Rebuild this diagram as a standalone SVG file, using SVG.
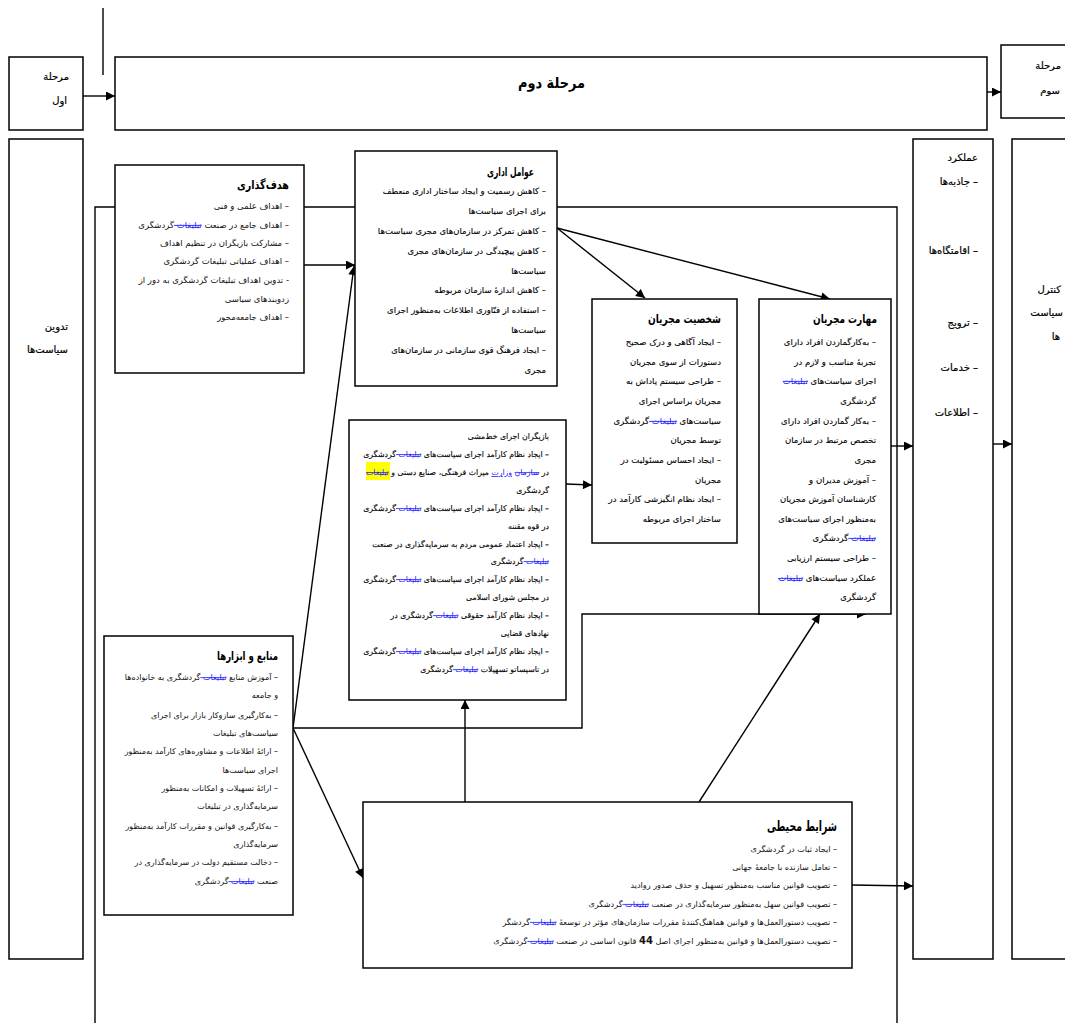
<svg xmlns="http://www.w3.org/2000/svg" width="1065" height="1023" viewBox="0 0 1065 1023">
<style>
.bx{fill:#fff;stroke:#000;stroke-width:1.5}
.ln{fill:none;stroke:#000;stroke-width:1.4}
text{font-family:"DejaVu Sans",sans-serif;direction:rtl;text-anchor:start;fill:#111}
.s{font-size:8.5px}
.k{fill:#000;stroke:#000;stroke-width:0.12}
.h{font-size:12px;font-weight:bold;fill:#000}
.m{font-size:10px;fill:#000;stroke:#000;stroke-width:0.2}
.tr{fill:#1a1aff;stroke:none;text-decoration:line-through}
.u{fill:#1a1aff;stroke:none;text-decoration:underline}
</style>
<defs>
<marker id="ah" viewBox="0 0 10 10" refX="10" refY="5" markerWidth="10" markerHeight="9" markerUnits="userSpaceOnUse" orient="auto"><path d="M0,0 L10,5 L0,10 z" fill="#000"/></marker>
</defs>

<g id="connectors">
<path class="ln" d="M103,8 L103,75"/>
<path class="ln" d="M95,1023 L95,207 L897,207 L897,1023"/>
<path class="ln" d="M83,96 L115,96" marker-end="url(#ah)"/>
<path class="ln" d="M987,92 L1001,92" marker-end="url(#ah)"/>
<path class="ln" d="M304,265 L355,265" marker-end="url(#ah)"/>
<path class="ln" d="M293,728 L354,266" marker-end="url(#ah)"/>
<path class="ln" d="M293,728 L582,728 L582,614 L866,614" marker-end="url(#ah)"/>
<path class="ln" d="M293,728 L363,878" marker-end="url(#ah)"/>
<path class="ln" d="M465,802 L465,700" marker-end="url(#ah)"/>
<path class="ln" d="M699,802 L820,614" marker-end="url(#ah)"/>
<path class="ln" d="M852,885 L913,886" marker-end="url(#ah)"/>
<path class="ln" d="M557,228 L645,298" marker-end="url(#ah)"/>
<path class="ln" d="M557,228 L830,299" marker-end="url(#ah)"/>
<path class="ln" d="M566,484 L592,485" marker-end="url(#ah)"/>
<path class="ln" d="M891,446 L913,446" marker-end="url(#ah)"/>
<path class="ln" d="M993,444 L1012,444" marker-end="url(#ah)"/>
</g>

<g id="phase1">
<rect class="bx" x="9" y="57" width="74" height="73"/>
<text class="m" x="69" y="80">مرحلة</text>
<text class="m" x="67" y="104">اول</text>
</g>
<g id="phase2">
<rect class="bx" x="115" y="57" width="872" height="73"/>
<text x="585" y="88" textLength="67" lengthAdjust="spacingAndGlyphs" style="font-size:15px;font-weight:bold;fill:#000">مرحلة دوم</text>
</g>
<g id="phase3">
<rect class="bx" x="1001" y="45" width="70" height="73"/>
<text class="m" x="1061" y="69">مرحلة</text>
<text class="m" x="1060" y="94">سوم</text>
</g>
<g id="policy">
<rect class="bx" x="9" y="139" width="74" height="820"/>
<text class="m" x="68" y="330">تدوین</text>
<text class="m" x="68" y="353">سیاست‌ها</text>
</g>
<g id="performance">
<rect class="bx" x="913" y="139" width="80" height="820"/>
<text class="m" x="978" y="161">عملکرد</text>
<text class="m" x="978" y="185">– جاذبه‌ها</text>
<text class="m" x="978" y="254">– اقامتگاه‌ها</text>
<text class="m" x="978" y="326">– ترویج</text>
<text class="m" x="978" y="371">– خدمات</text>
<text class="m" x="978" y="416">– اطلاعات</text>
</g>
<g id="control">
<rect class="bx" x="1012" y="139" width="60" height="820"/>
<text class="m" x="1061" y="293">کنترل</text>
<text class="m" x="1063" y="316">سیاست</text>
<text class="m" x="1060" y="340">ها</text>
</g>

<g id="goal">
<rect class="bx" x="115" y="165" width="189" height="208"/>
<text class="h" x="289" y="189" textLength="52" lengthAdjust="spacingAndGlyphs">هدف‌گذاری</text>
<text class="s" x="289" y="209">– اهداف علمی و فنی</text>
<text class="s" x="289" y="228">– اهداف جامع در صنعت <tspan class="tr">تبلیغات </tspan>گردشگری</text>
<text class="s" x="289" y="246">– مشارکت بازیگران در تنظیم اهداف</text>
<text class="s" x="289" y="264">– اهداف عملیاتی تبلیغات گردشگری</text>
<text class="s" x="289" y="283">- تدوین اهداف تبلیغات گردشگری به دور از</text>
<text class="s" x="289" y="302">زدوبندهای سیاسی</text>
<text class="s" x="289" y="320">– اهداف جامعه‌محور</text>
</g>

<g id="admin">
<rect class="bx" x="355" y="151" width="202" height="235"/>
<text class="h" x="534" y="176" textLength="47" lengthAdjust="spacingAndGlyphs">عوامل اداری</text>
<text class="s k" x="546" y="194">– کاهش رسمیت و ایجاد ساختار اداری منعطف</text>
<text class="s k" x="546" y="214">برای اجرای سیاست‌ها</text>
<text class="s k" x="546" y="234">– کاهش تمرکز در سازمان‌های مجری سیاست‌ها</text>
<text class="s k" x="546" y="254">– کاهش پیچیدگی در سازمان‌های مجری</text>
<text class="s k" x="546" y="274">سیاست‌ها</text>
<text class="s k" x="546" y="293">– کاهش اندازهٔ سازمان مربوطه</text>
<text class="s k" x="546" y="313">– استفاده از فنّاوری اطلاعات به‌منظور اجرای</text>
<text class="s k" x="546" y="333">سیاست‌ها</text>
<text class="s k" x="546" y="353">– ایجاد فرهنگ قوی سازمانی در سازمان‌های</text>
<text class="s k" x="546" y="373">مجری</text>
</g>

<g id="personality">
<rect class="bx" x="592" y="299" width="145" height="244"/>
<text class="h" x="721" y="323" textLength="73" lengthAdjust="spacingAndGlyphs">شخصیت مجریان</text>
<text class="s k" x="721" y="345">– ایجاد آگاهی و درک صحیح</text>
<text class="s k" x="721" y="365">دستورات از سوی مجریان</text>
<text class="s k" x="721" y="384">– طراحی سیستم پاداش به</text>
<text class="s k" x="721" y="404">مجریان براساس اجرای</text>
<text class="s k" x="721" y="424">سیاست‌های <tspan class="tr">تبلیغات </tspan>گردشگری</text>
<text class="s k" x="721" y="443">توسط مجریان</text>
<text class="s k" x="721" y="463">– ایجاد احساس مسئولیت در</text>
<text class="s k" x="721" y="483">مجریان</text>
<text class="s k" x="721" y="502">– ایجاد نظام انگیزشی کارآمد در</text>
<text class="s k" x="721" y="522">ساختار اجرای مربوطه</text>
</g>

<g id="skill">
<rect class="bx" x="759" y="299" width="132" height="315"/>
<text class="h" x="877" y="323" textLength="64" lengthAdjust="spacingAndGlyphs">مهارت مجریان</text>
<text class="s k" x="876" y="345">– به‌کارگماردن افراد دارای</text>
<text class="s k" x="876" y="365">تجربهٔ مناسب و لازم در</text>
<text class="s k" x="876" y="384">اجرای سیاست‌های <tspan class="tr">تبلیغات</tspan></text>
<text class="s k" x="876" y="404">گردشگری</text>
<text class="s k" x="876" y="424">– به‌کار گماردن افراد دارای</text>
<text class="s k" x="876" y="443">تخصص مرتبط در سازمان</text>
<text class="s k" x="876" y="463">مجری</text>
<text class="s k" x="876" y="483">– آموزش مدیران و</text>
<text class="s k" x="876" y="502">کارشناسان آموزش مجریان</text>
<text class="s k" x="876" y="522">به‌منظور اجرای سیاست‌های</text>
<text class="s k" x="876" y="541"><tspan class="tr">تبلیغات </tspan>گردشگری</text>
<text class="s k" x="876" y="561">– طراحی سیستم ارزیابی</text>
<text class="s k" x="876" y="581">عملکرد سیاست‌های <tspan class="tr">تبلیغات</tspan></text>
<text class="s k" x="876" y="600">گردشگری</text>
</g>

<g id="actors" style="font-size:7.8px">
<rect class="bx" x="349" y="420" width="217" height="280"/>
<rect x="366" y="462" width="24" height="18" fill="#ffff00"/>
<text class="k" x="549" y="439">بازیگران اجرای خط‌مشی</text>
<text class="k" x="549" y="457">– ایجاد نظام کارآمد اجرای سیاست‌های <tspan class="tr">تبلیغات </tspan>گردشگری</text>
<text class="k" x="549" y="475" textLength="183" lengthAdjust="spacingAndGlyphs">در <tspan class="tr">سازمان</tspan> <tspan class="u">وزارت</tspan> میراث فرهنگی، صنایع دستی و <tspan class="tr">تبلیغات</tspan></text>
<text class="k" x="549" y="493">گردشگری</text>
<text class="k" x="549" y="511">– ایجاد نظام کارآمد اجرای سیاست‌های <tspan class="tr">تبلیغات </tspan>گردشگری</text>
<text class="k" x="549" y="529">در قوه مقننه</text>
<text class="k" x="549" y="547">– ایجاد اعتماد عمومی مردم به سرمایه‌گذاری در صنعت</text>
<text class="k" x="549" y="564"><tspan class="tr">تبلیغات </tspan>گردشگری</text>
<text class="k" x="549" y="582">– ایجاد نظام کارآمد اجرای سیاست‌های <tspan class="tr">تبلیغات </tspan>گردشگری</text>
<text class="k" x="549" y="600">در مجلس شورای اسلامی</text>
<text class="k" x="549" y="618">– ایجاد نظام کارآمد حقوقی <tspan class="tr">تبلیغات </tspan>گردشگری در</text>
<text class="k" x="549" y="636">نهادهای قضایی</text>
<text class="k" x="549" y="654">– ایجاد نظام کارآمد اجرای سیاست‌های <tspan class="tr">تبلیغات </tspan>گردشگری</text>
<text class="k" x="549" y="672">در تاسیساتو تسهیلات <tspan class="tr">تبلیغات </tspan>گردشگری</text>
</g>

<g id="resources" style="font-size:8px">
<rect class="bx" x="104" y="636" width="189" height="279"/>
<text class="h" x="278" y="660" textLength="61" lengthAdjust="spacingAndGlyphs">منابع و ابزارها</text>
<text x="278" y="680">– آموزش منابع <tspan class="tr">تبلیغات </tspan>گردشگری به خانواده‌ها</text>
<text x="278" y="698">و جامعه</text>
<text x="278" y="718">– به‌کارگیری سازوکار بازار برای اجرای</text>
<text x="278" y="736">سیاست‌های تبلیغات</text>
<text x="278" y="754">– ارائهٔ اطلاعات و مشاوره‌های کارآمد به‌منظور</text>
<text x="278" y="773">اجرای سیاست‌ها</text>
<text x="278" y="791">– ارائهٔ تسهیلات و امکانات به‌منظور</text>
<text x="278" y="809">سرمایه‌گذاری در تبلیغات</text>
<text x="278" y="829">– به‌کارگیری قوانین و مقررات کارآمد به‌منظور</text>
<text x="278" y="847">سرمایه‌گذاری</text>
<text x="278" y="865">– دخالت مستقیم دولت در سرمایه‌گذاری در</text>
<text x="278" y="884">صنعت <tspan class="tr">تبلیغات </tspan>گردشگری</text>
</g>

<g id="environment" style="font-size:8.1px">
<rect class="bx" x="363" y="802" width="489" height="166"/>
<text x="837" y="831" textLength="70" lengthAdjust="spacingAndGlyphs" style="font-size:14px;font-weight:bold;fill:#000">شرایط محیطی</text>
<text x="837" y="852">– ایجاد ثبات در گردشگری</text>
<text x="837" y="870">– تعامل سازنده با جامعهٔ جهانی</text>
<text x="837" y="888">– تصویب قوانین مناسب به‌منظور تسهیل و حذف صدور روادید</text>
<text x="837" y="907">– تصویب قوانین سهل به‌منظور سرمایه‌گذاری در صنعت <tspan class="tr">تبلیغات </tspan>گردشگری</text>
<text x="837" y="925">– تصویب دستورالعمل‌ها و قوانین هماهنگ‌کنندهٔ مقررات سازمان‌های مؤثر در توسعهٔ <tspan class="tr">تبلیغات </tspan>گردشگر</text>
<text x="837" y="944">– تصویب دستورالعمل‌ها و قوانین به‌منظور اجرای اصل <tspan style="font-weight:bold;font-size:10px">44</tspan> قانون اساسی در صنعت <tspan class="tr">تبلیغات </tspan>گردشگری</text>
</g>
</svg>
